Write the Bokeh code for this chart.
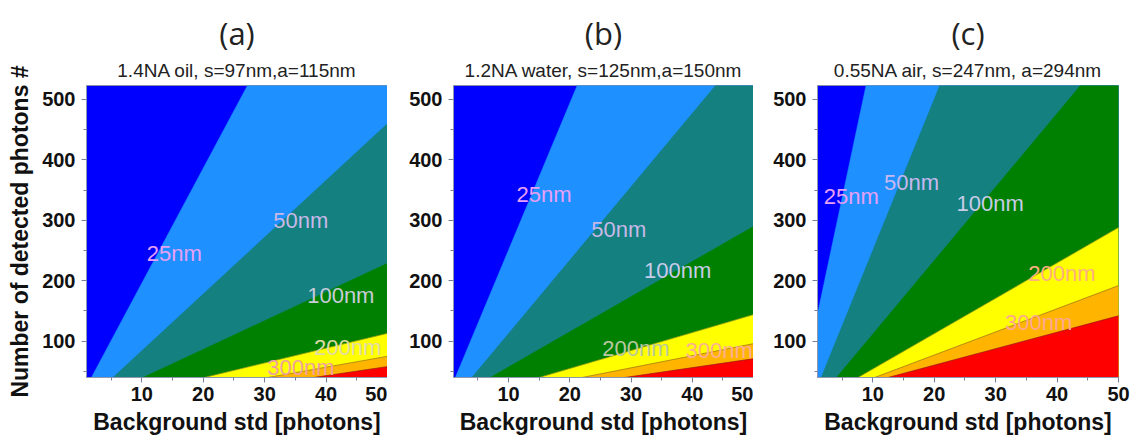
from bokeh.plotting import figure
from bokeh.models import Range1d, Title, FixedTicker, ColumnDataSource
from bokeh.layouts import row
from bokeh.embed import file_html
from bokeh.resources import INLINE
from bokeh.core.properties import value

# ---------------- data ----------------
X_MIN, X_MAX = 1, 50
Y_MIN, Y_MAX = 40, 523

x_ticks = [10, 20, 30, 40, 50]
x_minor_ticks = [5, 15, 25, 35, 45]
y_ticks = [100, 200, 300, 400, 500]
y_minor_ticks = [50, 150, 250, 350, 450]

region_colors = ["#0000FF", "#1E90FF", "#148080", "#008000", "#FFFF00", "#FFB400", "#FF0000"]

panel_letters = ["(a)", "(b)", "(c)"]
panel_subtitles = ["1.4NA oil, s=97nm,a=115nm",
                   "1.2NA water, s=125nm,a=150nm",
                   "0.55NA air, s=247nm, a=294nm"]

# contour boundaries (start point -> end point)
a_x0 = [1.8, 5.3, 10.2, 20.2, 30.5, 38.0]
a_y0 = [40, 40, 40, 40, 40, 40]
a_x1 = [27.2, 50, 50, 50, 50, 50]
a_y1 = [523, 460, 229, 113, 75, 58]

b_x0 = [1.3, 4.0, 7.0, 15.0, 22.0, 29.0]
b_y0 = [40, 40, 40, 40, 40, 40]
b_x1 = [21.2, 43.8, 50, 50, 50, 50]
b_y1 = [523, 523, 290, 144, 96, 71]

c_x0 = [1.0, 1.6, 4.1, 7.6, 10.3, 12.5]
c_y0 = [145, 40, 40, 40, 40, 40]
c_x1 = [8.9, 20.9, 43.8, 50, 50, 50]
c_y1 = [523, 523, 523, 288, 192, 142]

# contour labels
a_lab_text = ["25nm", "50nm", "100nm", "200nm", "300nm"]
a_lab_x = [15.3, 35.9, 42.4, 43.5, 35.9]
a_lab_y = [245, 300, 176, 90, 57]
a_lab_col = ["#E6A0F5", "#C8B8E8", "#C8CCD8", "#E0DCA8", "#F0A0A0"]

b_lab_text = ["25nm", "50nm", "100nm", "200nm", "300nm"]
b_lab_x = [15.8, 28.0, 37.6, 30.8, 44.4]
b_lab_y = [342, 284, 217, 88, 85]
b_lab_col = ["#E6A0F5", "#C8B8E8", "#C8CCE8", "#B8C8A0", "#FFB090"]

c_lab_text = ["25nm", "50nm", "100nm", "200nm", "300nm"]
c_lab_x = [6.5, 16.3, 29.1, 40.8, 37.0]
c_lab_y = [340, 362, 327, 212, 131]
c_lab_col = ["#E6A0F5", "#C8B8F0", "#C8CCE8", "#FFB080", "#FFA890"]

panels = [
    (a_x0, a_y0, a_x1, a_y1, a_lab_text, a_lab_x, a_lab_y, a_lab_col),
    (b_x0, b_y0, b_x1, b_y1, b_lab_text, b_lab_x, b_lab_y, b_lab_col),
    (c_x0, c_y0, c_x1, c_y1, c_lab_text, c_lab_x, c_lab_y, c_lab_col),
]

# ---------------- layout ----------------
widths = [387, 366, 377]
border_left = [86, 66, 64]
border_right = [0, 0, 12]
HEIGHT = 441

FONT = "Liberation Sans"


def region_below(x0, y0, x1, y1):
    xs = [x0, x1]
    ys = [y0, y1]
    if y1 >= Y_MAX and x1 < X_MAX:
        xs.append(X_MAX); ys.append(Y_MAX)
    xs.append(X_MAX); ys.append(Y_MIN)
    if x0 <= X_MIN and y0 > Y_MIN:
        xs.append(X_MIN); ys.append(Y_MIN)
    return xs, ys


figs = []
for i, (x0s, y0s, x1s, y1s, ltxt, lx, ly, lcol) in enumerate(panels):
    p = figure(width=widths[i], height=HEIGHT,
               x_range=Range1d(X_MIN, X_MAX), y_range=Range1d(Y_MIN, Y_MAX),
               output_backend="svg", toolbar_location=None,
               min_border_left=border_left[i], min_border_right=border_right[i],
               min_border_top=85, min_border_bottom=64)
    p.background_fill_color = region_colors[0]
    p.border_fill_color = "white"
    p.outline_line_color = "#8890a8"
    p.xgrid.visible = False
    p.ygrid.visible = False

    xs, ys = [], []
    for k in range(len(x0s)):
        px, py = region_below(x0s[k], y0s[k], x1s[k], y1s[k])
        xs.append(px); ys.append(py)
    src = ColumnDataSource(dict(xs=xs, ys=ys, color=region_colors[1:]))
    p.patches("xs", "ys", fill_color="color", line_color="color", line_width=0.5, source=src)

    # thin contour lines between the light regions
    p.segment(x0=x0s[3:], y0=y0s[3:], x1=x1s[3:], y1=y1s[3:],
              line_color="#303030", line_alpha=0.45, line_width=0.8)

    p.text(x=lx, y=ly, text=ltxt, text_color=lcol,
           text_font=value(FONT), text_font_size="22px",
           text_align="center", text_baseline="middle")

    p.xaxis.ticker = FixedTicker(ticks=x_ticks, minor_ticks=x_minor_ticks)
    p.yaxis.ticker = FixedTicker(ticks=y_ticks, minor_ticks=y_minor_ticks)
    for ax in (p.xaxis, p.yaxis):
        ax.axis_line_color = "#9098b0"
        ax.major_tick_line_color = "#7880a0"
        ax.minor_tick_line_color = "#7880a0"
        ax.major_tick_out = 5
        ax.major_tick_in = 0
        ax.minor_tick_out = 3
        ax.minor_tick_in = 0
        ax.major_label_text_font = FONT
        ax.major_label_text_font_style = "bold"
        ax.major_label_text_font_size = "20px"
        ax.major_label_text_color = "#111111"
        ax.axis_label_text_font = FONT
        ax.axis_label_text_font_style = "bold"
        ax.axis_label_text_font_size = "23px"
        ax.axis_label_text_color = "#111111"
    p.xaxis.major_label_standoff = 4
    p.yaxis.major_label_standoff = 6
    p.xaxis.axis_label = "Background std [photons]"
    p.xaxis.axis_label_standoff = 5
    if i == 0:
        p.yaxis.axis_label = "Number of detected photons #"
        p.yaxis.axis_label_standoff = 6

    p.add_layout(Title(text=panel_subtitles[i], align="center",
                       text_font=FONT, text_font_size="19px",
                       text_font_style="normal", text_color="#222222",
                       standoff=9), "above")
    p.add_layout(Title(text=panel_letters[i], align="center",
                       text_font="Open Sans", text_font_size="31px",
                       text_font_style="normal", text_color="#222222",
                       standoff=0), "above")
    figs.append(p)

layout = row(*figs, spacing=0)
open("out.html", "w").write(file_html(layout, INLINE))
